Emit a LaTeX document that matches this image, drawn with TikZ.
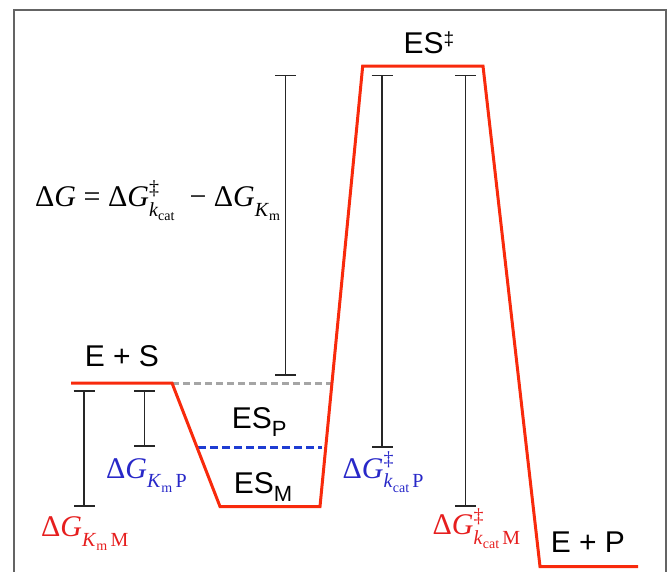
\documentclass[tikz,border=0pt]{standalone}
\usepackage{fontspec}
\setsansfont{Liberation Sans}
\newfontfamily\tms{Liberation Serif}
\usetikzlibrary{arrows.meta}
\definecolor{rline}{RGB}{248,42,12}
\definecolor{lblue}{RGB}{40,40,200}
\definecolor{lred}{RGB}{230,30,30}
\definecolor{dgray}{RGB}{165,165,165}
\definecolor{dblue}{RGB}{30,60,210}
\definecolor{fgray}{RGB}{100,100,100}
\newcommand\dG{Δ\textit{G}}
\newcommand\subA[1]{\raisebox{-9.5pt}{\fontsize{20}{20}\selectfont #1}}
\newcommand\subB[1]{\raisebox{-4.5pt}{\fontsize{14}{14}\selectfont #1}}
\newcommand\supA{\rlap{\raisebox{12.5pt}{\fontsize{20}{20}\selectfont ‡}}}
\newcommand\ssub[1]{\raisebox{-8pt}{\fontsize{22}{22}\selectfont #1}}
\tikzset{
  redpath/.style={draw=rline,line width=3pt},
  framebox/.style={draw=fgray,line width=1.8pt},
  graydash/.style={draw=dgray,line width=3pt,dash pattern=on 7pt off 4pt},
  bluedash/.style={draw=dblue,line width=3pt,dash pattern=on 8pt off 4pt},
  ebar/.style={draw=black!85,line width=1.5pt,{Bar[width=21pt,line width=1.6pt]}-{Bar[width=21pt,line width=1.6pt]}},
  sanslbl/.style={inner sep=0pt,anchor=base west,font=\sffamily\fontsize{30}{32}\selectfont},
  serlbl/.style={inner sep=0pt,anchor=base west,font=\tms\fontsize{30}{32}\selectfont},
}
\begin{document}
\begin{tikzpicture}[x=1pt,y=-1pt]
\useasboundingbox (0,0) rectangle (669,571);
% frame
\coordinate (f1) at (14,580);
\coordinate (f2) at (14,10);
\coordinate (f3) at (666,10);
\coordinate (f4) at (666,580);
\draw[framebox] (f1) -- (f2) -- (f3) -- (f4);
% energy profile
\coordinate (es1) at (71,383);
\coordinate (es2) at (172,383);
\coordinate (esm1) at (220,506.5);
\coordinate (esm2) at (320,506.5);
\coordinate (ts1) at (362.7,66);
\coordinate (ts2) at (483,66);
\coordinate (ep1) at (540,566.5);
\coordinate (ep2) at (638,566.5);
\coordinate (gd2) at (331.5,383);
\coordinate (bd1) at (198,447.3);
\coordinate (bd2) at (322,447.3);
\draw[graydash] (es2) -- (gd2);
\draw[bluedash] (bd1) -- (bd2);
\draw[redpath] (es1) -- (es2) -- (esm1) -- (esm2) -- (ts1) -- (ts2) -- (ep1) -- (ep2);
% error bars
\coordinate (b1t) at (285.5,74.5);  \coordinate (b1b) at (285.5,375.5);
\coordinate (b2t) at (382,74.5);    \coordinate (b2b) at (382,447.5);
\coordinate (b3t) at (465.5,74.5);  \coordinate (b3b) at (465.5,507);
\coordinate (b4t) at (84,390);      \coordinate (b4b) at (84,507);
\coordinate (b5t) at (144.5,390);   \coordinate (b5b) at (144.5,447);
\draw[ebar] (b1t) -- (b1b);
\draw[ebar] (b2t) -- (b2b);
\draw[ebar] (b3t) -- (b3b);
\draw[ebar] (b4t) -- (b4b);
\draw[ebar] (b5t) -- (b5b);
% state labels
\node[sanslbl] (lts) at (403.3,53) {ES\raisebox{8pt}{\fontsize{19}{19}\selectfont ‡}};
\node[sanslbl] (les) at (84.6,366.7) {E + S};
\node[sanslbl] (lesp) at (231.6,428) {ES\ssub{P}};
\node[sanslbl] (lesm) at (233.6,493) {ES\ssub{M}};
\node[sanslbl] (lep) at (550.6,552) {E + P};
% energy labels
\node[serlbl] (leq) at (35,206.7) {\dG{} = \dG\supA\subA{\textit{k}\subB{cat}}\ \ − \dG\subA{\textit{K}\subB{m}}};
\node[serlbl,text=lblue] (lkmp) at (106,478) {\dG\subA{\textit{K}\subB{m}\,P}};
\node[serlbl,text=lred] (lkmm) at (41,536.5) {\dG\subA{\textit{K}\subB{m}\,M}};
\node[serlbl,text=lblue] (lkcp) at (342.5,478) {\dG\supA\subA{\textit{k}\subB{cat}\,P}};
\node[serlbl,text=lred] (lkcm) at (432.5,534.5) {\dG\supA\subA{\textit{k}\subB{cat}\,M}};
\end{tikzpicture}
\end{document}
